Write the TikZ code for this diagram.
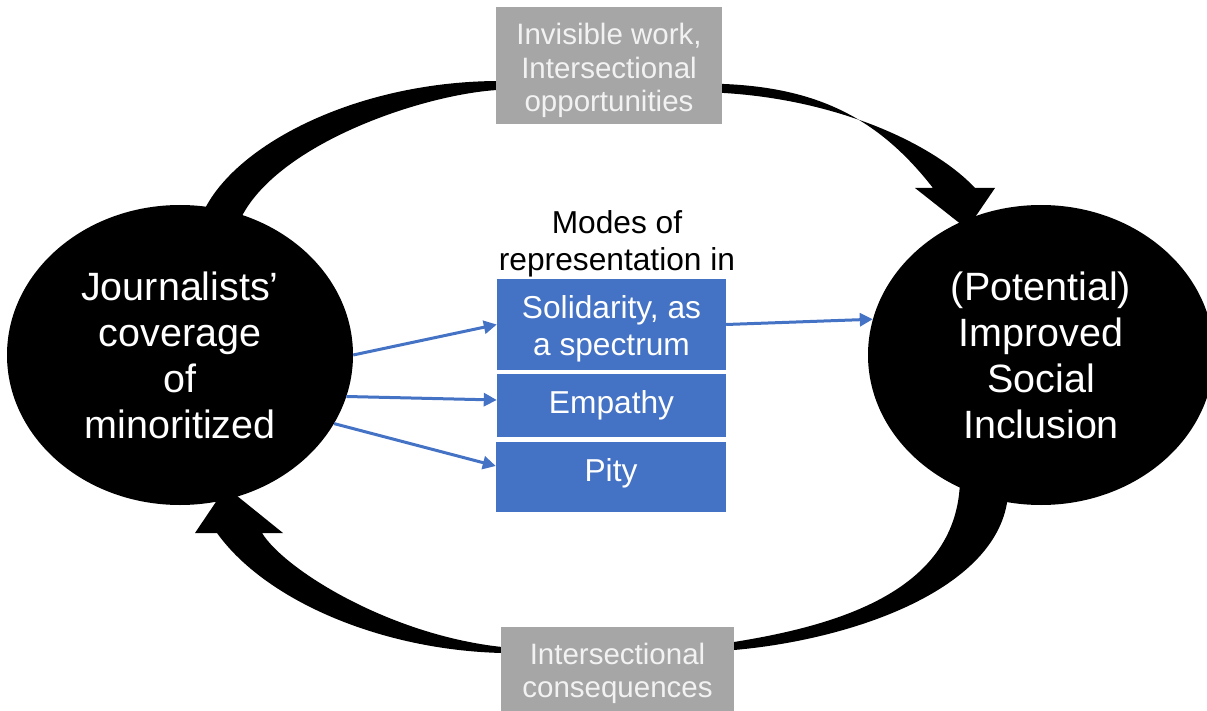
\documentclass[tikz,border=0pt]{standalone}
\usepackage{fontspec}
\setmainfont{Liberation Sans}
\usetikzlibrary{shapes.geometric,arrows.meta}
\definecolor{obl}{HTML}{4472C4}
\definecolor{gbox}{HTML}{A6A6A6}
\definecolor{gtxt}{HTML}{F2F2F2}
\begin{document}
\begin{tikzpicture}[x=1pt,y=-1pt,
  bigell/.style={ellipse, fill=black, text=white, inner sep=0pt, minimum width=346pt, minimum height=300pt, align=center, font=\fontsize{39.5}{46}\selectfont},
  bluebox/.style={rectangle, fill=obl, inner sep=0pt},
  bluetext/.style={text=white, inner sep=0pt, align=center, font=\fontsize{31.7}{37}\selectfont},
  graybox/.style={rectangle, fill=gbox, inner sep=0pt},
  graytext/.style={text=gtxt, inner sep=0pt, align=center, font=\fontsize{29.5}{33.5}\selectfont},
  blink/.style={draw=obl, line width=3pt, -{Triangle[length=13pt,width=13pt]}},
  band/.style={fill=black},
]
\clip (0,0) rectangle (1207,711);

% curved loop arrows
\fill[band] (200,220) .. controls (225,150) and (350,82) .. (497,81) -- (724,84)
  .. controls (820,88) and (880,120) .. (933,188) -- (915,188) -- (967,229) -- (995,188) -- (975,188)
  .. controls (935,145) and (840,100) .. (724,93) -- (497,90)
  .. controls (420,95) and (275,145) .. (240,220) -- cycle;
\fill[band] (1008,495) .. controls (1000,590) and (850,640) .. (734,650) -- (502,653)
  .. controls (380,650) and (265,600) .. (217,533) -- (195,533) -- (226,487) -- (283,533) -- (262,533)
  .. controls (285,570) and (390,635) .. (502,647) -- (734,642)
  .. controls (840,625) and (958,590) .. (960,480) -- cycle;

\node[bigell] (J) at (180,355) {Journalists’\\coverage\\of\\minoritized};
\node[bigell] (P) at (1041,355) {(Potential)\\Improved\\Social\\Inclusion};

\node[graybox, minimum width=226pt, minimum height=117pt] (G1) at (609,65.5) {};
\node[graytext] (G1t) at ([yshift=-5pt]G1.center) {Invisible work,\\Intersectional\\opportunities};
\node[graybox, minimum width=233pt, minimum height=86pt] (G2) at (617.5,670) {};
\node[graytext] (G2t) at ([yshift=-3.5pt]G2.center) {Intersectional\\consequences};

\node[align=center, inner sep=0pt, font=\fontsize{31.7}{37}\selectfont] (M) at (617,243.5) {Modes of\\representation in};

\node[bluebox, minimum width=229pt, minimum height=91pt] (S) at (611.5,324.5) {};
\node[bluetext] (St) at ([yshift=-4pt]S.center) {Solidarity, as\\a spectrum};
\node[bluebox, minimum width=229pt, minimum height=63pt] (E) at (611.5,405.5) {};
\node[bluetext] (Et) at (E.center) {Empathy};
\node[bluebox, minimum width=230pt, minimum height=70pt] (Pi) at (611,477) {};
\node[bluetext] (Pit) at ([yshift=3.5pt]Pi.center) {Pity};

\draw[blink] (J.east) -- (S.west);
\draw[blink] (J.-14) -- ([yshift=5.5pt]E.west);
\draw[blink] (J.-24) -- ([yshift=11pt]Pi.west);
\draw[blink] (S.east) -- (P.168);
\end{tikzpicture}
\end{document}
